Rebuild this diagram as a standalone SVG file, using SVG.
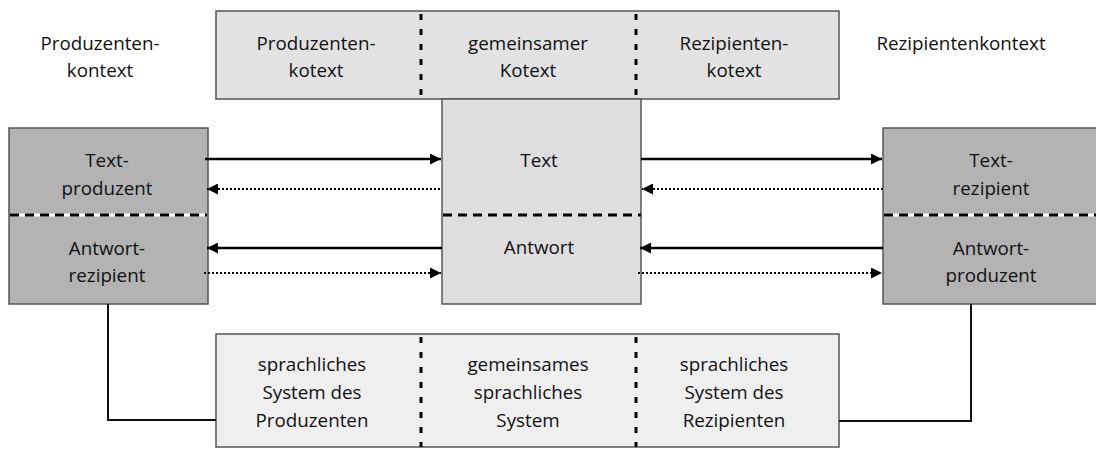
<svg xmlns="http://www.w3.org/2000/svg" width="1096" height="450" viewBox="0 0 1096 450">
<defs>
<marker id="ah" viewBox="0 0 10 10" refX="10" refY="5" markerWidth="11" markerHeight="11" markerUnits="userSpaceOnUse" orient="auto">
<path d="M0,0 L10,5 L0,10 Z" fill="#000"/>
</marker>
<style>
text{font-family:"Open Sans","Noto Sans","Liberation Sans",sans-serif;font-size:18.8px;fill:#111;text-anchor:middle}
.box{stroke:#555;stroke-width:1.5}
.light{fill:#e2e2e2}
.mid{fill:#dedede}
.dark{fill:#b3b3b3}
.pale{fill:#efefef}
.vdash{stroke:#000;stroke-width:3;stroke-dasharray:6 9;fill:none}
.hdash{stroke:#000;stroke-width:3;stroke-dasharray:9 6;fill:none}
.solid{stroke:#000;stroke-width:2.5;fill:none}
.dot{stroke:#000;stroke-width:2;stroke-dasharray:2 2;fill:none}
.conn{stroke:#111;stroke-width:2;fill:none}
</style>
</defs>

<g id="produzentenkontext">
<text x="100" y="50">Produzenten-</text>
<text x="100" y="77">kontext</text>
</g>
<g id="rezipientenkontext">
<text x="961" y="50">Rezipientenkontext</text>
</g>

<g id="kotext">
<rect class="box light" x="216" y="11" width="623" height="88"/>
<line class="vdash" x1="421" y1="14" x2="421" y2="99"/>
<line class="vdash" x1="636" y1="14" x2="636" y2="99"/>
<text x="316" y="50">Produzenten-</text>
<text x="316" y="77">kotext</text>
<text x="528" y="50">gemeinsamer</text>
<text x="528" y="77">Kotext</text>
<text x="734" y="50">Rezipienten-</text>
<text x="734" y="77">kotext</text>
</g>

<g id="text-center">
<rect class="box mid" x="442" y="99" width="199" height="205"/>
<line class="hdash" x1="443" y1="215" x2="641" y2="215"/>
<text x="539" y="167">Text</text>
<text x="539" y="254">Antwort</text>
</g>

<g id="textproduzent">
<rect class="box dark" x="9" y="128" width="199" height="176"/>
<line stroke="#fff" stroke-width="3" x1="10" y1="215" x2="207" y2="215"/>
<line class="hdash" x1="10" y1="215" x2="207" y2="215"/>
<text x="107" y="167">Text-</text>
<text x="107" y="195">produzent</text>
<text x="107" y="255">Antwort-</text>
<text x="107" y="282">rezipient</text>
</g>

<g id="textrezipient">
<rect class="box dark" x="883" y="128" width="220" height="176"/>
<line stroke="#fff" stroke-width="3" x1="884" y1="215" x2="1096" y2="215"/>
<line class="hdash" x1="884" y1="215" x2="1096" y2="215"/>
<text x="991" y="167">Text-</text>
<text x="991" y="195">rezipient</text>
<text x="991" y="255">Antwort-</text>
<text x="991" y="282">produzent</text>
</g>

<g id="sprachsystem">
<rect class="box pale" x="216" y="334" width="623" height="113"/>
<line class="vdash" x1="421" y1="337" x2="421" y2="447"/>
<line class="vdash" x1="636" y1="337" x2="636" y2="447"/>
<text x="312" y="371">sprachliches</text>
<text x="312" y="399">System des</text>
<text x="312" y="427">Produzenten</text>
<text x="528" y="371">gemeinsames</text>
<text x="528" y="399">sprachliches</text>
<text x="528" y="427">System</text>
<text x="734" y="371">sprachliches</text>
<text x="734" y="399">System des</text>
<text x="734" y="427">Rezipienten</text>
</g>

<g id="connectors">
<line class="solid" x1="205" y1="159" x2="441" y2="159" marker-end="url(#ah)"/>
<line class="dot" x1="440" y1="189" x2="207" y2="189" marker-end="url(#ah)"/>
<line class="solid" x1="442" y1="248" x2="207" y2="248" marker-end="url(#ah)"/>
<line class="dot" x1="204" y1="273" x2="441" y2="273" marker-end="url(#ah)"/>
<line class="solid" x1="641" y1="159" x2="882" y2="159" marker-end="url(#ah)"/>
<line class="dot" x1="883" y1="189" x2="642" y2="189" marker-end="url(#ah)"/>
<line class="solid" x1="883" y1="248" x2="640" y2="248" marker-end="url(#ah)"/>
<line class="dot" x1="638" y1="273" x2="882" y2="273" marker-end="url(#ah)"/>
<polyline class="conn" points="108,304 108,420 216,420"/>
<polyline class="conn" points="971,304 971,421 839,421"/>
</g>
</svg>
